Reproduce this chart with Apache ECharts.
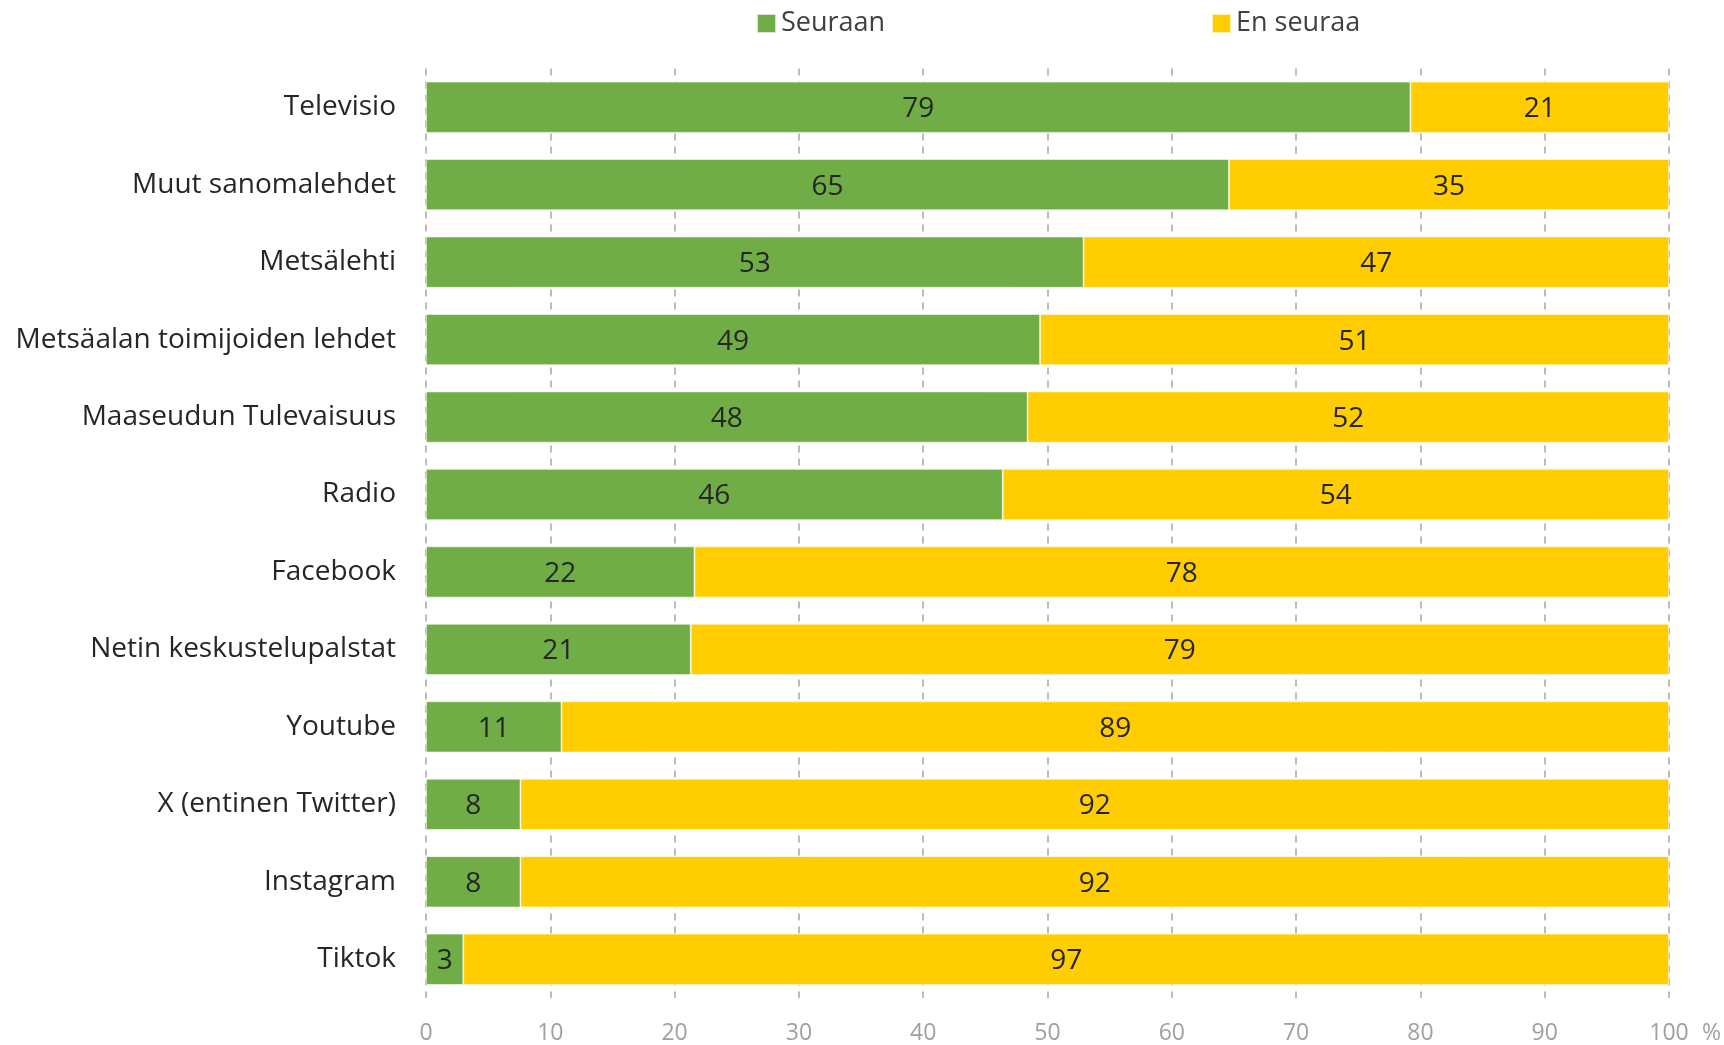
<!DOCTYPE html>
<html>
<head>
<meta charset="utf-8">
<script src="https://cdn.jsdelivr.net/npm/echarts@6/dist/echarts.min.js"></script>
<style>
html,body{margin:0;padding:0;background:#fff;}
#chart{width:1724px;height:1045px;}
</style>
</head>
<body>
<div id="chart"></div>
<script>
const categories = ["Televisio","Muut sanomalehdet","Metsälehti","Metsäalan toimijoiden lehdet","Maaseudun Tulevaisuus","Radio","Facebook","Netin keskustelupalstat","Youtube","X (entinen Twitter)","Instagram","Tiktok"];
const seuraan = [79.2,64.6,52.9,49.4,48.4,46.4,21.6,21.3,10.9,7.6,7.6,3.0];
const enSeuraa = [20.8,35.4,47.1,50.6,51.6,53.6,78.4,78.7,89.1,92.4,92.4,97.0];
const xTicks = [0,10,20,30,40,50,60,70,80,90,100];
const seriesNames = ["Seuraan","En seuraa"];

const FONT = "'Open Sans', 'Noto Sans', sans-serif";
const chart = echarts.init(document.getElementById('chart'), null, {renderer:'canvas'});
const labelStyle = {
  show: true, position: 'inside', offset: [0, 2], color: '#262626', fontFamily: FONT, fontSize: 28,
  formatter: p => Math.round(p.value)
};
chart.setOption({
  animation: false,
  textStyle: {fontFamily: FONT},
  grid: {left: 426, right: 55, top: 68.5, bottom: 46.5, containLabel: false},
  legend: [
    {data: [seriesNames[0]], left: 751, top: 5, itemWidth: 19, itemHeight: 19, icon: 'rect', itemGap: 7,
     textStyle: {fontFamily: FONT, fontSize: 27, color: '#404040'}},
    {data: [seriesNames[1]], left: 1206, top: 5, itemWidth: 19, itemHeight: 19, icon: 'rect', itemGap: 7,
     textStyle: {fontFamily: FONT, fontSize: 27, color: '#404040'}}
  ],
  xAxis: {
    type: 'value', min: xTicks[0], max: xTicks[xTicks.length-1], interval: 10,
    axisLine: {show: false}, axisTick: {show: false},
    splitLine: {show: true, lineStyle: {color: '#A6A6A6', type: [7,6], width: 1.5}},
    axisLabel: {color: '#A0A0A0', fontSize: 23, fontFamily: FONT, margin: 24},
    name: '%', nameLocation: 'end', nameGap: 33,
    nameTextStyle: {color: '#A0A0A0', fontSize: 23, fontFamily: FONT, verticalAlign: 'top', padding: [24,0,0,0]}
  },
  yAxis: {
    type: 'category', data: categories, inverse: true,
    axisLine: {show: false}, axisTick: {show: false},
    axisLabel: {color: '#262626', fontSize: 28, fontFamily: FONT, margin: 30, padding: [5,0,0,0]}
  },
  series: [
    {name: seriesNames[0], type: 'bar', stack: 'a', data: seuraan, barCategoryGap: '34%',
     itemStyle: {color: '#70AD47', borderColor: 'rgba(255,255,255,0.7)', borderWidth: 0.8},
     label: labelStyle},
    {name: seriesNames[1], type: 'bar', stack: 'a', data: enSeuraa, barCategoryGap: '34%',
     itemStyle: {color: '#FFCD00', borderColor: 'rgba(255,255,255,0.7)', borderWidth: 0.8},
     label: labelStyle}
  ]
});
</script>
</body>
</html>
